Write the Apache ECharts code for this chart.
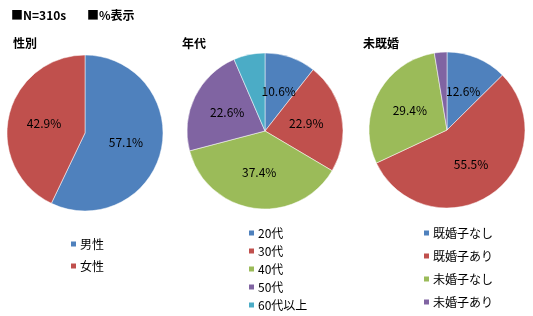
<!DOCTYPE html>
<html><head><meta charset="utf-8">
<script src="https://cdn.jsdelivr.net/npm/echarts@6/dist/echarts.min.js"></script>
<style>html,body{margin:0;padding:0;background:#fff}#c{width:533px;height:316px}</style>
</head><body><div id="c"></div>
<script>
const colors = ['#4F81BD','#C0504D','#9BBB59','#8064A2','#4BACC6'];
const genderCats = ['男性','女性'];
const genderVals = [57.1, 42.9];
const ageCats = ['20代','30代','40代','50代','60代以上'];
const ageVals = [10.6, 22.9, 37.4, 22.6, 6.5];
const maritalCats = ['既婚子なし','既婚子あり','未婚子なし','未婚子あり'];
const maritalVals = [12.6, 55.5, 29.4, 2.6];
const headerTexts = ['■N=310s','■%表示'];
const panelTitles = ['性別','年代','未既婚'];

const font = '"Noto Sans CJK JP", sans-serif';
function mk(cats, vals){ return cats.map((n,i)=>({name:n, value:vals[i], itemStyle:{color:colors[i]}})); }
function pie(cats, vals, cx, cy){
  return {type:'pie', radius:78, center:[cx,cy], startAngle:90, clockwise:true,
    data: mk(cats, vals), animation:false,
    itemStyle:{borderColor:'#fff', borderWidth:0.5},
    label:{show:true, position:'inside', formatter: p => p.value.toFixed(1)+'%', color:'#000', fontSize:12, fontFamily:font},
    labelLine:{show:false}, emphasis:{disabled:true}};
}
function legend(cats, left, top, gap){
  return {data: cats, orient:'vertical', left, top, height: 120, itemWidth:7, itemHeight:7, itemGap:gap, icon:'rect',
    selectedMode:false, textStyle:{fontSize:12, color:'#000', fontFamily:font, padding:[0,0,0,-2]}};
}
const chart = echarts.init(document.getElementById('c'));
chart.setOption({
  animation:false,
  title: [
    {text: headerTexts[0], left: 6, top: 4, textStyle:{fontSize:12, fontWeight:'bold', fontFamily:font, color:'#000'}},
    {text: headerTexts[1], left: 82, top: 4, textStyle:{fontSize:12, fontWeight:'bold', fontFamily:font, color:'#000'}},
    {text: panelTitles[0], left: 8, top: 32, textStyle:{fontSize:12, fontWeight:'bold', fontFamily:font, color:'#000'}},
    {text: panelTitles[1], left: 177, top: 32, textStyle:{fontSize:12, fontWeight:'bold', fontFamily:font, color:'#000'}},
    {text: panelTitles[2], left: 358, top: 32, textStyle:{fontSize:12, fontWeight:'bold', fontFamily:font, color:'#000'}}
  ],
  legend: [
    legend(genderCats, 64, 233, 10),
    legend(ageCats, 242, 222, 6),
    legend(maritalCats, 417, 222, 11)
  ],
  series: [
    pie(genderCats, genderVals, 85, 133),
    pie(ageCats, ageVals, 265, 131),
    pie(maritalCats, maritalVals, 447, 130)
  ]
});
</script></body></html>
